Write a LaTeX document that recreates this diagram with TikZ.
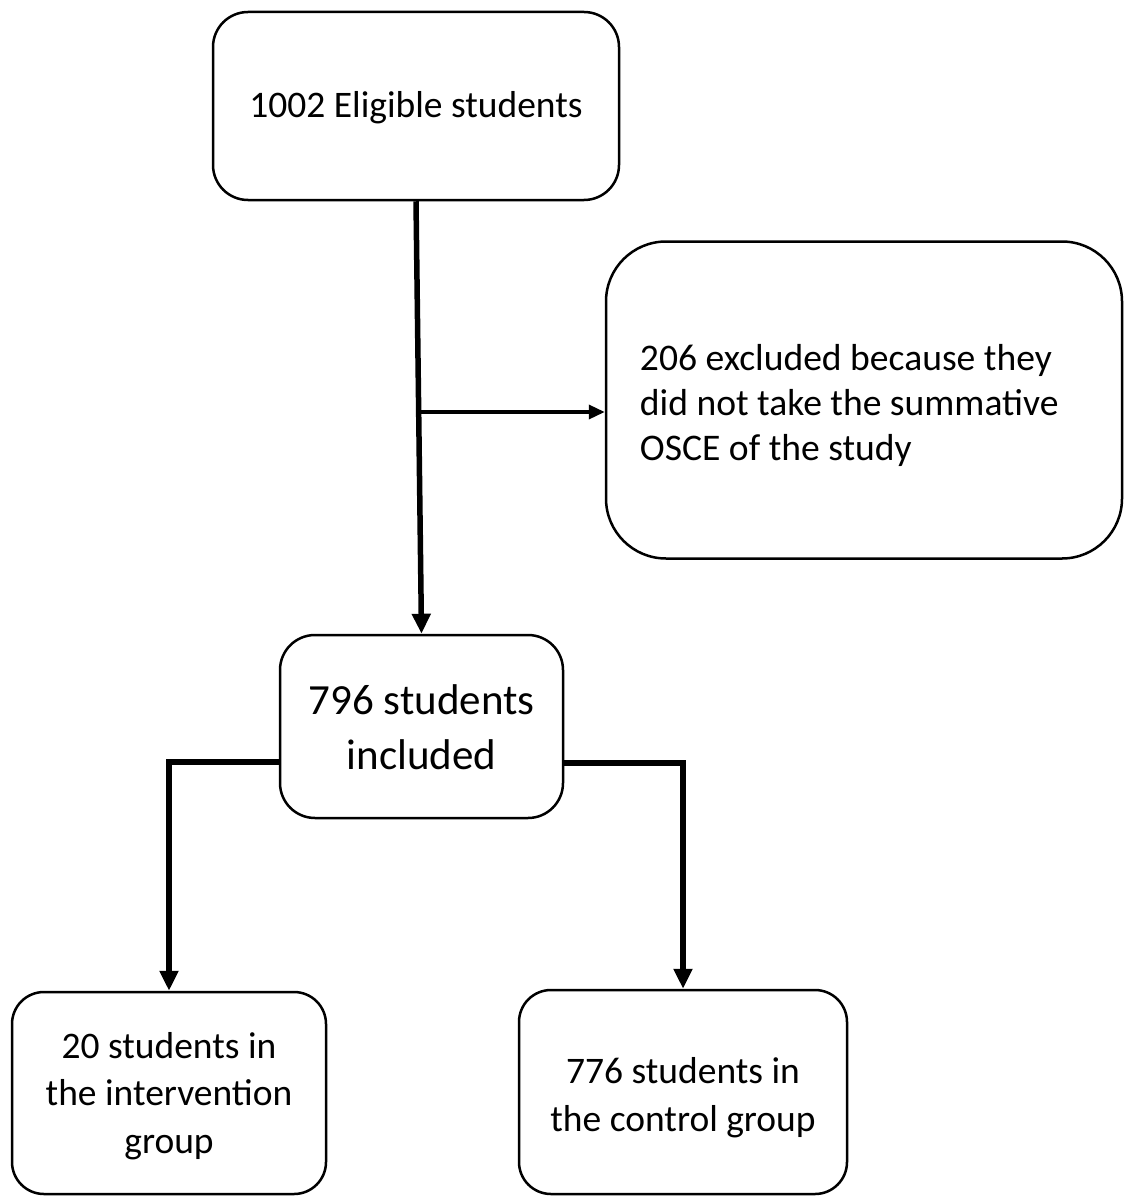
\documentclass[tikz,border=0pt]{standalone}
\usepackage{fontspec}
\setmainfont{Carlito}
\usetikzlibrary{arrows.meta}
\begin{document}
\begin{tikzpicture}[x=1pt,y=-1pt,
  box/.style={draw,line width=2.5pt,rounded corners=#1,inner sep=0pt},
  box/.default=35pt,
  label text/.style={inner sep=0pt,align=center},
  thick arrow/.style={line width=5.5pt,-{Triangle[length=20pt,width=18pt]}},
  thin arrow/.style={line width=3.5pt,-{Triangle[length=16pt,width=14pt]}}]
\useasboundingbox (0,0) rectangle (1128,1196);
\node[box,minimum width=406pt,minimum height=188pt] (top) at (416,106) {};
\node[label text,font=\fontsize{37.5}{45}\selectfont] (toptext) at ([yshift=-2pt]top.center)
  {1002 Eligible students};
\node[box=60pt,minimum width=516pt,minimum height=317pt] (excl) at (864,400) {};
\node[label text,align=flush left,anchor=west,font=\fontsize{37.6}{45}\selectfont] (excltext) at ([xshift=35pt,yshift=-5pt]excl.west)
  {206 excluded because they\\did not take the summative\\OSCE of the study};
\node[box,minimum width=283pt,minimum height=183pt] (mid) at (421.5,726.5) {};
\node[label text,font=\fontsize{43}{55}\selectfont] (midtext) at ([yshift=-0.5pt]mid.center)
  {796 students\\included};
\node[box=32pt,minimum width=314pt,minimum height=202pt] (left) at (169,1093) {};
\node[label text,font=\fontsize{37.5}{47.5}\selectfont] (lefttext) at ([yshift=-3pt]left.center)
  {20 students in\\the intervention\\group};
\node[box=32pt,minimum width=328pt,minimum height=204pt] (right) at (683,1092) {};
\node[label text,font=\fontsize{37.5}{48}\selectfont] (righttext) at ([yshift=-6pt]right.center)
  {776 students in\\the control group};
\coordinate (branch) at (419.5,412);
\coordinate (lsplit) at (0,762);
\coordinate (rsplit) at (0,763);
\draw[thick arrow] (top.south) -- (mid.north);
\draw[thin arrow] (branch) -- (branch -| excl.west);
\draw[thick arrow] (mid.west |- lsplit) -| (left.north);
\draw[thick arrow] (mid.east |- rsplit) -| (right.north);
\end{tikzpicture}
\end{document}
